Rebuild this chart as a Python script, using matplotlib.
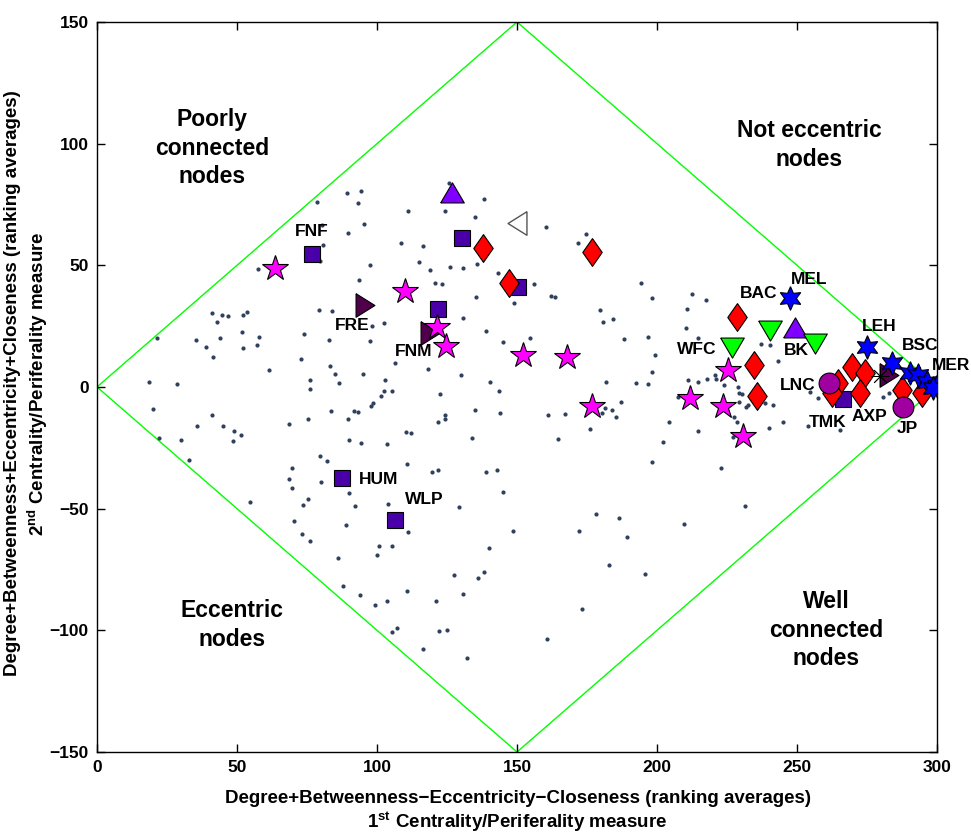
import matplotlib
matplotlib.use("Agg")
import matplotlib.pyplot as plt
import numpy as np

plt.rcParams['font.family'] = ['Liberation Sans', 'DejaVu Sans']
plt.rcParams['font.weight'] = 'bold'
plt.rcParams['mathtext.fontset'] = 'custom'
plt.rcParams['mathtext.rm'] = 'Liberation Sans:bold'
plt.rcParams['mathtext.bf'] = 'Liberation Sans:bold'

# small background nodes
dots_x = [89.2, 94.3, 78.7, 93.3, 95.4, 80.5, 89.8, 80.6, 79.8, 97.6, 57.6, 93.7, 79.4, 83.8,
          41.1, 44.6, 46.9, 52.3, 53.6, 42.7, 51.8, 58.0, 74.0, 83.0, 97.5, 102.4, 98.2, 35.5,
          44.0, 21.5, 39.0, 52.0, 57.1, 41.3, 73.0, 61.4, 83.3, 85.0, 95.0, 75.9, 86.3, 76.1,
          103.0, 102.4, 105.5, 101.3, 98.7, 98.0, 18.6, 28.6, 20.0, 40.9, 83.5, 91.9, 93.3,
          75.4, 89.6, 35.6, 45.1, 48.8, 51.3, 48.5, 68.5, 22.0, 30.1, 90.0, 94.2, 103.6, 33.0,
          79.6, 82.3, 69.6, 68.7, 69.5, 54.8, 70.4, 110.4, 112.0, 134.0, 164.8, 79.9, 89.9,
          110.7, 119.6, 121.9, 138.8, 142.7, 145.1, 75.5, 73.7, 92.3, 103.9, 129.4, 88.9, 73.2,
          76.2, 110.9, 148.7, 172.1, 100.6, 105.5, 99.9, 86.1, 140.0, 127.5, 138.3, 136.1, 87.7,
          93.9, 110.7, 130.6, 103.7, 99.3, 121.1, 173.1, 105.5, 107.0, 122.1, 125.1, 160.8,
          116.4, 132.1, 125.8, 138.2, 111.2, 124.2, 134.9, 160.2, 108.5, 116.3, 174.6, 171.7,
          114.9, 119.0, 126.1, 130.8, 135.7, 143.1, 120.7, 123.1, 156.2, 194.3, 135.4, 148.9,
          162.1, 163.6, 130.6, 179.6, 184.2, 180.6, 138.9, 196.7, 145.1, 154.6, 188.3, 106.4,
          118.1, 130.0, 140.4, 143.7, 181.8, 192.5, 196.9, 122.5, 135.0, 143.9, 124.3, 124.3,
          121.9, 161.0, 167.1, 187.0, 181.4, 183.8, 185.4, 176.1, 180.2, 198.2, 212.6, 217.6,
          210.6, 210.2, 214.8, 199.4, 198.1, 210.9, 214.8, 217.7, 220.8, 223.9, 229.4, 207.5,
          204.3, 214.8, 202.3, 227.0, 228.4, 231.8, 198.2, 223.0, 231.5, 178.3, 186.4, 189.4,
          209.5, 183.0, 195.8, 237.1, 240.4, 243.3, 221.1, 229.0, 230.2, 229.4, 232.6, 238.6,
          241.5, 227.5, 244.9, 240.1, 254.6, 257.6, 254.0, 265.4, 280.8, 283.0]
dots_y = [79.6, 80.7, 76.0, 75.8, 67.0, 66.6, 63.2, 58.4, 51.9, 50.0, 48.6, 44.0, 31.6, 31.1,
          30.3, 29.7, 29.3, 29.5, 30.8, 26.6, 22.7, 20.7, 21.7, 19.2, 19.0, 26.4, 25.1, 19.2,
          20.0, 20.0, 16.3, 16.0, 17.4, 12.5, 11.6, 6.8, 8.8, 5.5, 5.3, 3.0, 1.5, -0.7,
          2.7, -1.8, -1.6, -3.8, -6.7, -7.7, 1.9, 1.4, -9.2, -11.7, -9.7, -10.0, -10.4,
          -13.2, -13.2, -16.0, -16.0, -18.0, -19.9, -22.3, -15.2, -21.1, -21.7, -21.7, -22.9, -23.6, -30.0,
          -28.4, -30.5, -33.2, -38.0, -41.6, -47.4, -55.2, -18.4, -19.1, -21.1, -21.5, -39.0, -43.7,
          -31.5, -35.1, -34.1, -35.1, -34.1, -43.2, -46.2, -48.4, -48.9, -48.2, -49.2, -56.9, -60.4,
          -63.2, -59.5, -59.2, -59.2, -65.5, -65.5, -69.2, -70.3, -66.3, -77.3, -76.2, -78.5, -81.9,
          -85.5, -84.0, -85.2, -88.0, -89.7, -88.1, -91.1, -100.6, -99.2, -100.2, -99.9, -103.7,
          -107.7, -111.5, 83.7, 77.4, 72.5, 72.5, 70.0, 65.9, 59.1, 57.8, 62.8, 59.1,
          51.3, 48.0, 49.5, 49.0, 50.6, 46.7, 42.7, 42.3, 42.3, 42.6, 36.9, 34.7,
          37.5, 37.0, 28.5, 31.5, 27.9, 26.6, 23.0, 20.7, 18.5, 20.0, 19.9, 10.0,
          7.3, 4.9, 2.1, -1.6, 2.1, 1.5, 1.2, -2.9, -9.5, -10.8, -11.6, -13.3,
          -14.3, -11.5, -11.2, -6.3, -8.8, -9.3, -12.2, -17.3, -10.6, 36.5, 38.1, 35.6,
          32.2, 24.4, 20.0, 13.3, 6.2, 2.7, 2.2, 3.4, 4.8, 0.7, -2.6, -4.2,
          -14.5, -18.1, -22.5, -20.7, -14.3, -8.1, -30.7, -33.2, -49.0, -52.2, -54.0, -61.8,
          -56.5, -73.3, -77.0, 17.5, 17.3, 10.8, 3.3, 0.1, -2.9, -6.0, -7.4, -6.7,
          -7.4, -12.2, -14.5, -17.0, -1.9, -4.6, -15.9, -17.7, -4.0, -2.3]

# highlighted groups
square_x = [76.8, 130.4, 150.3, 121.9, 87.5, 106.4, 266.5]
square_y = [54.7, 61.2, 41.1, 32.1, -37.4, -54.7, -4.9]
right_tri_x = [95.7, 118.9, 283.0]
right_tri_y = [33.7, 22.2, 5.0]
left_tri_x = [150.0]
left_tri_y = [67.4]
up_tri_x = [126.8, 249.3]
up_tri_y = [79.7, 24.2]
star_x = [63.6, 110.0, 121.4, 124.6, 152.0, 167.8, 176.8, 211.8, 223.6, 225.4, 230.7]
star_y = [48.9, 39.5, 24.7, 16.9, 13.2, 12.4, -7.8, -4.5, -7.8, 7.0, -20.0]
diamond_x = [137.9, 176.7, 147.1, 228.6, 234.6, 235.6, 269.6, 274.3, 264.6, 262.5, 272.5, 287.5, 294.6]
diamond_y = [57.1, 55.5, 42.7, 28.8, 9.0, -3.7, 8.2, 5.6, 1.6, -2.6, -2.6, -1.2, -2.6]
down_tri_x = [240.4, 226.8, 256.4]
down_tri_y = [23.4, 16.5, 18.1]
hexa_x = [247.5, 275.0, 283.9, 290.4, 293.2, 296.4, 300.0, 298.6]
hexa_y = [36.6, 16.3, 9.9, 5.6, 4.9, 2.1, 0.4, -0.4]
circle_x = [261.4, 287.8]
circle_y = [1.6, -8.2]
aster_x = [279.6]
aster_y = [4.5]

# node names: (label, x of node, y of node)
labels = [("FNF", square_x[0], square_y[0]), ("FRE", right_tri_x[0], right_tri_y[0]),
          ("FNM", right_tri_x[1], right_tri_y[1]), ("HUM", square_x[4], square_y[4]),
          ("WLP", square_x[5], square_y[5]), ("WFC", down_tri_x[1], down_tri_y[1]),
          ("BAC", diamond_x[3], diamond_y[3]), ("MEL", hexa_x[0], hexa_y[0]),
          ("BK", up_tri_x[1], up_tri_y[1]), ("LEH", hexa_x[1], hexa_y[1]),
          ("BSC", hexa_x[2], hexa_y[2]), ("MER", hexa_x[6], hexa_y[6]),
          ("LNC", circle_x[0], circle_y[0]), ("TMK", square_x[6], square_y[6]),
          ("AXP", diamond_x[10], diamond_y[10]), ("JP", circle_x[1], circle_y[1])]
label_offsets = {"FNF": (0, 9), "FRE": (-4.5, -8.5), "FNM": (-6, -7.5), "HUM": (12.9, -0.8),
                 "WLP": (10.4, 8.3), "WFC": (-12.5, -1.3), "BAC": (7.8, 9.8), "MEL": (7, 7.5),
                 "BK": (0.3, -9.4), "LEH": (4.3, 8.4), "BSC": (10, 7), "MER": (5, 8.6),
                 "LNC": (-11, -0.8), "TMK": (-5.5, -9.5), "AXP": (3.5, -9.7), "JP": (1.5, -9)}

regions = [("Poorly\nconnected\nnodes", 41, 98.2), ("Not eccentric\nnodes", 254.3, 99.5),
           ("Eccentric\nnodes", 48.2, -97.8), ("Well\nconnected\nnodes", 260.4, -99.9)]

diamond_mk = [(0, 1), (0.7, 0), (0, -1), (-0.7, 0), (0, 1)]
up_mk = [(-1, -0.8), (1, -0.8), (0, 0.9), (-1, -0.8)]
down_mk = [(-1, 0.8), (1, 0.8), (0, -0.9), (-1, 0.8)]
right_mk = [(-0.8, 1), (0.8, 0), (-0.8, -1), (-0.8, 1)]
left_mk = [(0.8, 1), (-0.8, 0), (0.8, -1), (0.8, 1)]

fig = plt.figure(figsize=(9.71, 8.36), dpi=100)
ax = fig.add_axes([0.0999, 0.1005, 0.8651, 0.8732])

# region borders
ax.plot([0, 150, 300, 150, 0], [0, 150, 0, -150, 0], color='#00FF00', linewidth=1, zorder=1)

ax.plot(dots_x, dots_y, '.', color='#2E405E', markersize=4, zorder=2)

ax.plot(square_x, square_y, 's', mfc='#4A00A8', mec='black', ms=12, mew=0.8, zorder=3)
ax.plot(right_tri_x, right_tri_y, marker=right_mk, ls='none', mfc='#50004A', mec='black', ms=17, mew=0.8, zorder=3)
ax.plot(left_tri_x, left_tri_y, marker=left_mk, ls='none', mfc='white', mec='#555555', ms=17, mew=1, zorder=3)
ax.plot(up_tri_x, up_tri_y, marker=up_mk, ls='none', mfc='#8000FF', mec='black', ms=17, mew=0.8, zorder=3)
ax.plot(star_x, star_y, '*', mfc='#FF00FF', mec='black', ms=19, mew=0.8, zorder=4)
ax.plot(diamond_x, diamond_y, marker=diamond_mk, ls='none', mfc='#FF0000', mec='black', ms=20, mew=0.8, zorder=4)
ax.plot(down_tri_x, down_tri_y, marker=down_mk, ls='none', mfc='#00FF00', mec='black', ms=17, mew=0.8, zorder=4)
ax.plot(hexa_x, hexa_y, marker=(6, 1, 0), ls='none', mfc='#0000FF', mec='black', ms=17, mew=0.8, zorder=5)
ax.plot(circle_x, circle_y, 'o', mfc='#A000A0', mec='black', ms=15, mew=0.8, zorder=5)
ax.plot(aster_x, aster_y, marker=(8, 2, 0), ls='none', color='black', ms=13, mew=0.6, zorder=5)

for name, lx, ly in labels:
    dx, dy = label_offsets[name]
    ax.text(lx + dx, ly + dy, name, ha='center', va='center', fontsize=12.5,
            fontweight='bold', zorder=6, clip_on=False)

for txt, rx, ry in regions:
    ax.text(rx, ry, txt, ha='center', va='center', fontsize=16.5, fontweight='bold',
            linespacing=1.3, zorder=6)

ax.set_xlim(0, 300)
ax.set_ylim(-150, 150)
ax.set_xticks(np.arange(0, 301, 50))
ax.set_yticks(np.arange(-150, 151, 50))
ax.tick_params(direction='in', length=6, width=1, top=True, right=True, labelsize=12.5, pad=6)
for lab in ax.get_xticklabels() + ax.get_yticklabels():
    lab.set_fontweight('bold')
for sp in ax.spines.values():
    sp.set_linewidth(1)

ax.set_xlabel("Degree+Betweenness\u2212Eccentricity\u2212Closeness (ranking averages)\n"
              r"1$^{\mathbf{st}}$ Centrality/Periferality measure",
              fontsize=13.5, fontweight='bold', linespacing=1.1, va='center')
ax.set_ylabel("Degree+Betweenness+Eccentricity+Closeness (ranking averages)\n"
              r"2$^{\mathbf{nd}}$ Centrality/Periferality measure",
              fontsize=13.5, fontweight='bold', linespacing=1.2, va='center')
ax.xaxis.set_label_coords(0.5006, -0.0825)
ax.yaxis.set_label_coords(-0.0835, 0.505)

fig.savefig('out.png', dpi=100)
